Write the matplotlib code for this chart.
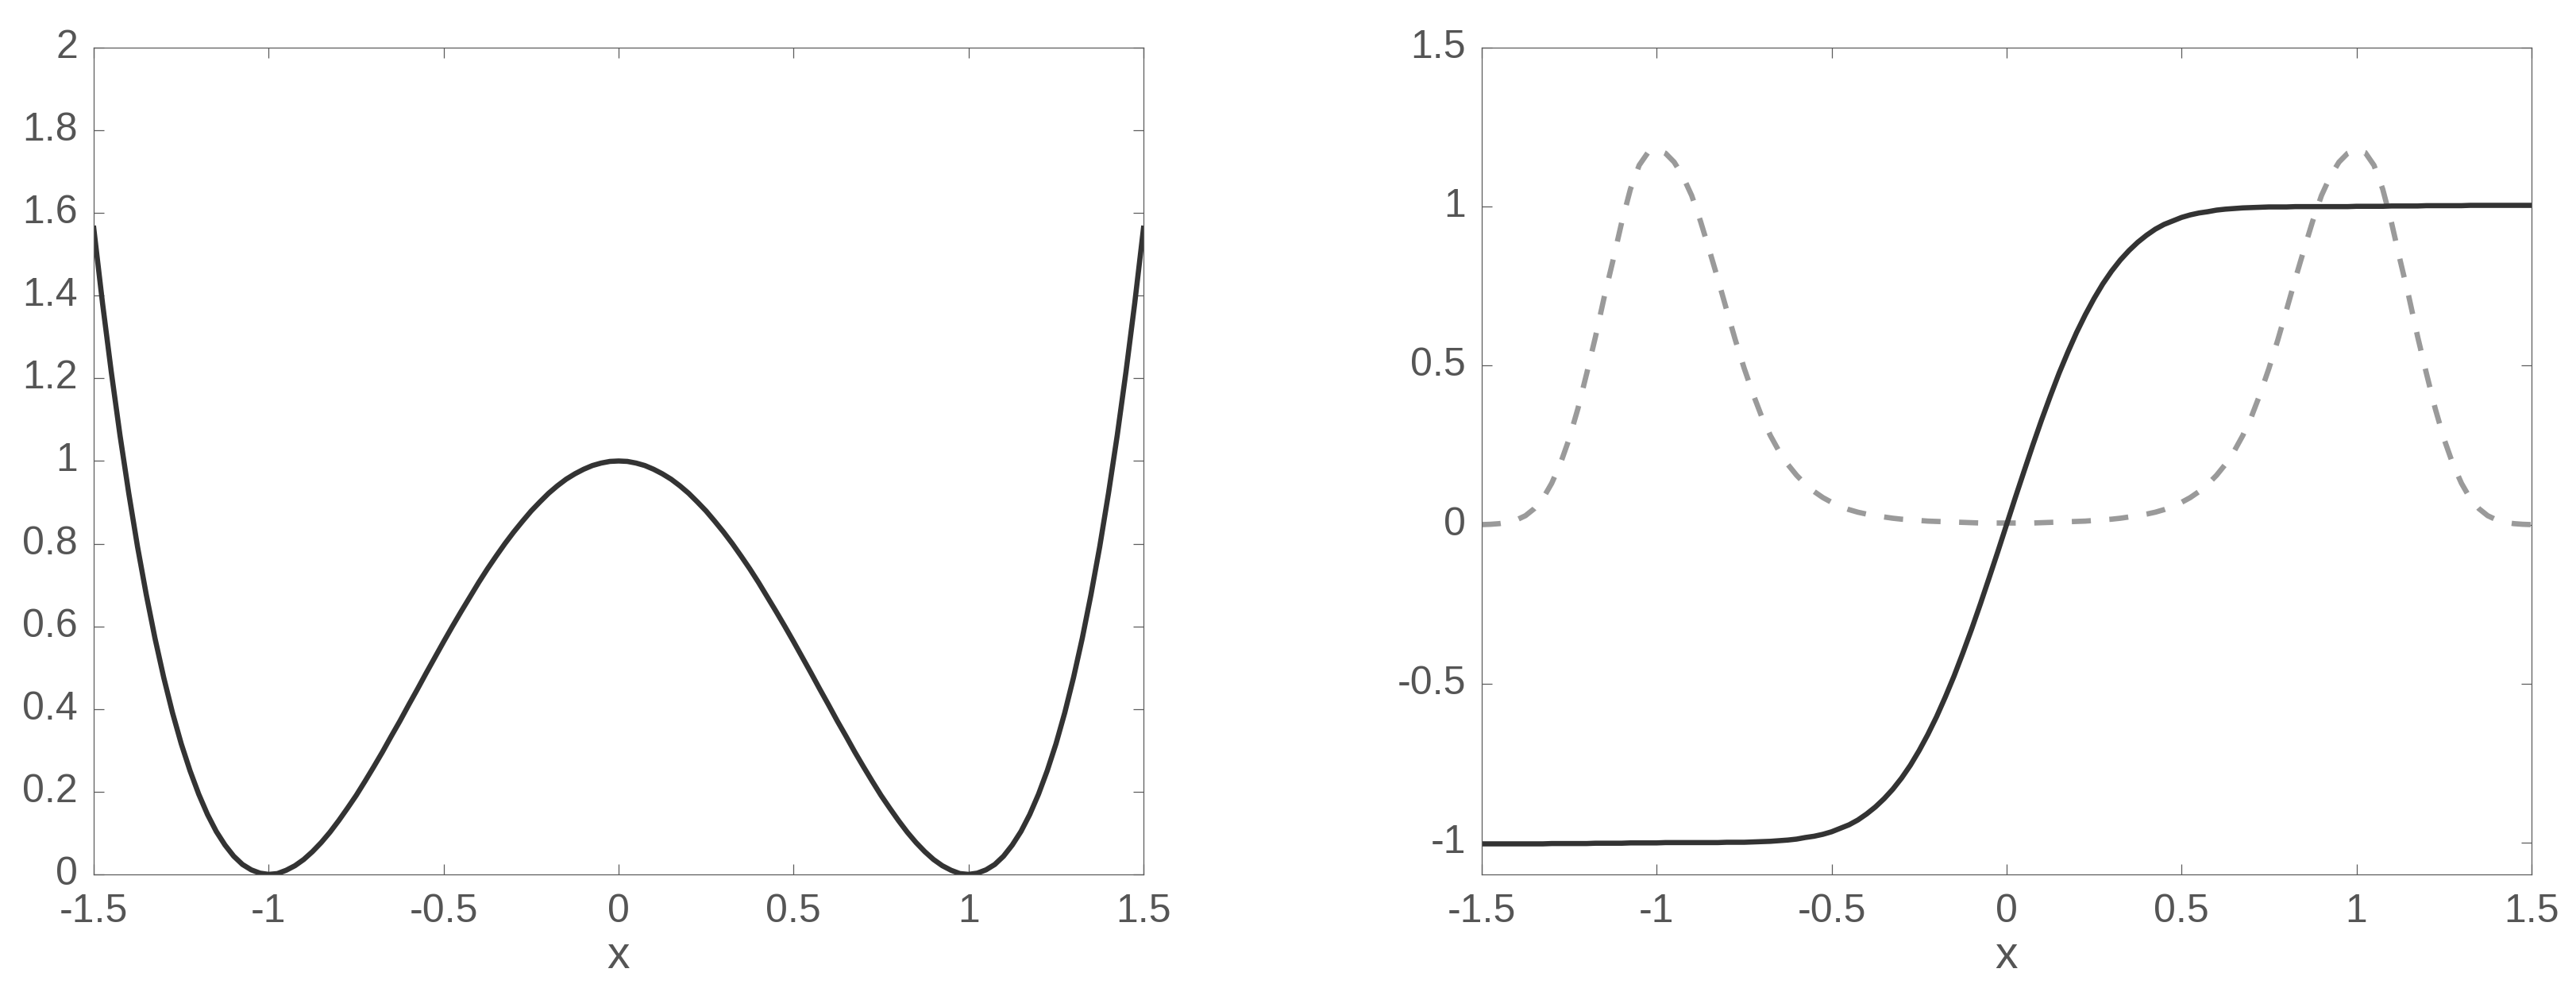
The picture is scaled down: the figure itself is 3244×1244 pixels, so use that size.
import numpy as np
import matplotlib
matplotlib.use("Agg")
import matplotlib.pyplot as plt

plt.rcParams['font.family'] = ['Liberation Sans', 'DejaVu Sans']

# shared x grid: -1.5 .. 1.5 in steps of 0.025 (121 samples)
x = np.linspace(-1.5, 1.5, 121)

# left panel: double-well potential
potential = [
    1.563, 1.382, 1.216, 1.062, 0.922, 0.793, 0.677, 0.571, 0.476, 0.391,
    0.316, 0.251, 0.194, 0.145, 0.104, 0.071, 0.044, 0.024, 0.011, 0.003,
    0.000, 0.002, 0.010, 0.021, 0.036, 0.055, 0.077, 0.102, 0.130, 0.160,
    0.191, 0.225, 0.260, 0.296, 0.334, 0.371, 0.410, 0.448, 0.487, 0.525,
    0.563, 0.600, 0.636, 0.671, 0.706, 0.739, 0.770, 0.800, 0.828, 0.854,
    0.879, 0.901, 0.922, 0.940, 0.956, 0.969, 0.980, 0.989, 0.995, 0.999,
    1.000,
    0.999, 0.995, 0.989, 0.980, 0.969, 0.956, 0.940, 0.922, 0.901, 0.879,
    0.854, 0.828, 0.800, 0.770, 0.739, 0.706, 0.671, 0.636, 0.600, 0.563,
    0.525, 0.487, 0.448, 0.410, 0.371, 0.334, 0.296, 0.260, 0.225, 0.191,
    0.160, 0.130, 0.102, 0.077, 0.055, 0.036, 0.021, 0.010, 0.002, 0.000,
    0.003, 0.011, 0.024, 0.044, 0.071, 0.104, 0.145, 0.194, 0.251, 0.316,
    0.391, 0.476, 0.571, 0.677, 0.793, 0.922, 1.062, 1.216, 1.382, 1.563,
]

# right panel: kink profile (solid line)
kink = [
    -1.004, -1.004, -1.004, -1.004, -1.004, -1.004, -1.004, -1.004, -1.003, -1.003,
    -1.003, -1.003, -1.003, -1.002, -1.002, -1.002, -1.002, -1.001, -1.001, -1.001,
    -1.001, -1.000, -1.000, -1.000, -1.000, -1.000, -1.000, -1.000, -0.999, -0.999,
    -0.999, -0.998, -0.997, -0.996, -0.994, -0.992, -0.989, -0.984, -0.980, -0.974,
    -0.966, -0.955, -0.944, -0.929, -0.910, -0.888, -0.862, -0.832, -0.797, -0.757,
    -0.711, -0.660, -0.604, -0.542, -0.476, -0.404, -0.329, -0.250, -0.168, -0.085,
    0.000,
    0.085, 0.168, 0.250, 0.329, 0.404, 0.476, 0.542, 0.604, 0.660, 0.711,
    0.757, 0.797, 0.832, 0.862, 0.888, 0.910, 0.929, 0.944, 0.955, 0.966,
    0.974, 0.980, 0.984, 0.989, 0.992, 0.994, 0.996, 0.997, 0.998, 0.999,
    0.999, 0.999, 1.000, 1.000, 1.000, 1.000, 1.000, 1.000, 1.000, 1.001,
    1.001, 1.001, 1.001, 1.002, 1.002, 1.002, 1.002, 1.003, 1.003, 1.003,
    1.003, 1.003, 1.004, 1.004, 1.004, 1.004, 1.004, 1.004, 1.004, 1.004,
]

# right panel: density bumps (dashed line)
density = [
    0.000, 0.001, 0.003, 0.007, 0.015, 0.028, 0.050, 0.082, 0.130, 0.192,
    0.270, 0.365, 0.475, 0.590, 0.715, 0.830, 0.950, 1.055, 1.130, 1.170,
    1.180, 1.168, 1.140, 1.095, 1.035, 0.955, 0.865, 0.772, 0.675, 0.580,
    0.492, 0.412, 0.340, 0.280, 0.230, 0.189, 0.155, 0.127, 0.104, 0.085,
    0.070, 0.057, 0.047, 0.039, 0.033, 0.028, 0.024, 0.020, 0.017, 0.015,
    0.013, 0.011, 0.010, 0.009, 0.008, 0.007, 0.006, 0.005, 0.005, 0.005,
    0.005,
    0.005, 0.005, 0.005, 0.006, 0.007, 0.008, 0.009, 0.010, 0.011, 0.013,
    0.015, 0.017, 0.020, 0.024, 0.028, 0.033, 0.039, 0.047, 0.057, 0.070,
    0.085, 0.104, 0.127, 0.155, 0.189, 0.230, 0.280, 0.340, 0.412, 0.492,
    0.580, 0.675, 0.772, 0.865, 0.955, 1.035, 1.095, 1.140, 1.168, 1.180,
    1.170, 1.130, 1.055, 0.950, 0.830, 0.715, 0.590, 0.475, 0.365, 0.270,
    0.192, 0.130, 0.082, 0.050, 0.028, 0.015, 0.007, 0.003, 0.001, 0.000,
]

xticks = [-1.5, -1, -0.5, 0, 0.5, 1, 1.5]
xticklabels = ['-1.5', '-1', '-0.5', '0', '0.5', '1', '1.5']
yticks_left = [0, 0.2, 0.4, 0.6, 0.8, 1, 1.2, 1.4, 1.6, 1.8, 2]
yticklabels_left = ['0', '0.2', '0.4', '0.6', '0.8', '1', '1.2', '1.4', '1.6', '1.8', '2']
yticks_right = [-1, -0.5, 0, 0.5, 1, 1.5]
yticklabels_right = ['-1', '-0.5', '0', '0.5', '1', '1.5']

text_col = '#555555'
axis_col = '#5c5c5c'
solid_col = '#333333'
dash_col = '#9a9a9a'

fig = plt.figure(figsize=(16.22, 6.22), dpi=200)
ax1 = fig.add_axes([0.0364, 0.1150, 0.4075, 0.8368])
ax2 = fig.add_axes([0.5752, 0.1150, 0.4075, 0.8368])

ax1.plot(x, potential, color=solid_col, lw=2.35)
ax2.plot(x, density, color=dash_col, lw=2.4, linestyle=(0, (3.6, 3.5)))
ax2.plot(x, kink, color=solid_col, lw=2.35)

for ax, yt, ytl, ylim in [(ax1, yticks_left, yticklabels_left, (0, 2)),
                          (ax2, yticks_right, yticklabels_right, (-1.1, 1.5))]:
    ax.set_xlim(-1.5, 1.5)
    ax.set_ylim(*ylim)
    ax.set_xticks(xticks)
    ax.set_xticklabels(xticklabels)
    ax.set_yticks(yt)
    ax.set_yticklabels(ytl, va='center')
    ax.tick_params(direction='in', length=4.7, width=0.45, colors=axis_col,
                   labelcolor=text_col, labelsize=18,
                   top=True, right=True)
    ax.tick_params(axis='x', pad=8.6)
    ax.tick_params(axis='y', pad=7.2)
    for s in ax.spines.values():
        s.set_color(axis_col)
        s.set_linewidth(0.45)
    ax.set_xlabel('x', fontsize=20.5, color=text_col, labelpad=2.2)

fig.savefig('out.png', dpi=200)
